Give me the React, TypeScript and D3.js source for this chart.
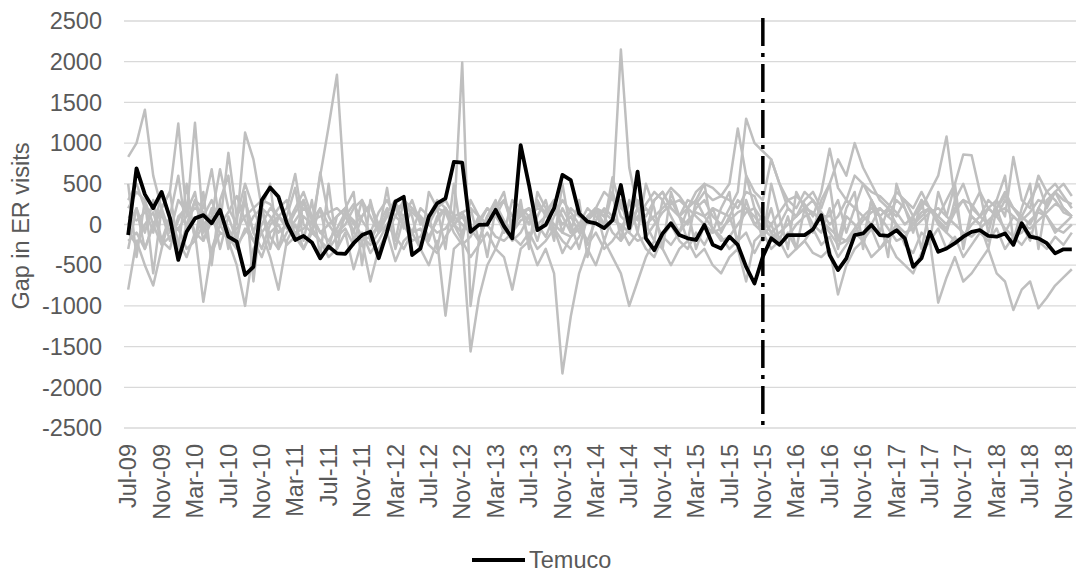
import React, { useEffect, useRef } from "react";
import * as d3 from "d3";

// months Jul-09 .. Dec-18
const months = d3.timeMonth.range(new Date(2009, 6, 1), new Date(2019, 0, 1));

const yTicks = [-2500, -2000, -1500, -1000, -500, 0, 500, 1000, 1500, 2000, 2500];

const temuco = [
  -130, 690, 370, 200, 400, 80, -435, -90, 75, 115, 15, 180,
  -150, -210, -620, -520, 300, 455, 340, 15, -190, -140, -220, -415,
  -270, -355, -360, -230, -130, -90, -415, -90, 280, 340, -375, -295,
  95, 260, 320, 770, 760, -90, -5, 0, 180, -20, -170, 975,
  485, -70, -5, 200, 610, 545, 135, 35, 15, -45, 55, 485,
  -45, 650, -170, -315, -110, 15, -130, -170, -190, -5, -250, -295,
  -150, -250, -520, -725, -395, -170, -250, -130, -130, -130, -60, 115,
  -375, -560, -415, -130, -110, -5, -130, -140, -70, -170, -520, -415,
  -90, -335, -295, -230, -150, -90, -70, -140, -150, -110, -250, 15,
  -150, -170, -230, -355, -305, -305,
];

const other1 = [
  830, 1000, 1410, 600, 200, -100, 300, 150, 400, -200, 100, 250,
  -300, 100, 500, 200, -100, 50, 200, 300, -150, 100, 0, 600,
  1200, 1840, 300, -200, 100, 250, -100, 150, 300, -50, 200, 100,
  -200, 100, 200, 50, 1990, -1000, -200, 100, 150, -100, 300, 200,
  100, -200, 150, 300, -100, 200, 100, 50, 200, 400, 300, 2150,
  700, 200, -100, 300, 400, 200, 100, 300, 250, 400, 300, 350,
  500, 1180, 600, 400, 300, 800, 500, 300, 200, 400, 300, 100,
  100, 300, -100, 200, 500, 300, 100, 200, 400, 300, 100, 200,
  400, 600, 1080, 300, 500, 200, 100, 300, 200, 400, 200, 100,
  300, 500, 200, 400, 300, 250,
];

const other2 = [
  -800, -200, -500, -750, -300, 100, -200, -400, -100, -950, -300, 0,
  -200, -500, -1000, -300, -100, -400, -800, -200, 0, -300, -100, -200,
  -400, -300, -100, -550, -200, -700, -300, -100, -450, -200, -100, -300,
  -500, -200, -1120, -300, -200, -1560, -900, -500, -300, -400, -800, -300,
  -200, -500, -300, -600, -1830, -1130, -600, -300, -500, -200, -400, -600,
  -1000, -700, -400, -200, -300, -500, -300, -200, -400, -300, -500, -600,
  -400, -300, -700, -200, -100, -300, -200, -400, -300, -200, -350, -400,
  -300, -860, -500, -300, -200, -400, -300, -200, -400, -500, -600, -350,
  -200, -960, -650, -400, -700, -600, -450, -300, -600, -700, -1050, -800,
  -700, -1030, -900, -750, -650, -550,
];

const other3 = [
  200, 400, 300, 0, 200, 400, 1240, 100, 1250, 0, 100, 680,
  200, 0, 1130, 800, 200, 100, -100, 0, 200, 400, 100, -100,
  0, 100, 200, 0, 100, 250, 0, -100, 100, 300, 200, 100,
  0, 200, 300, 100, 0, -100, 100, 0, 200, 300, 100, 200,
  0, 300, 100, 200, 0, 100, -100, 100, 200, 0, 400, 100,
  0, 200, 100, 300, 400, 200, 100, 0, 200, 300, 100, 0,
  200, 400, 1300, 1000, 900, 800, 500, 200, 100, 300, 400, 200,
  500, 800, 600, 1000, 700, 500, 300, 200, 100, 300, 200, 400,
  200, 100, 300, 500, 860, 850, 400, 200, 300, 100, 830, 300,
  200, 600, 400, 500, 350, 200,
];

const other4 = [
  -300, 200, -100, 300, -200, 100, -400, 0, 300, -100, 200, -300,
  100, -200, 300, -100, 200, -300, 100, 0, -200, 300, -100, 200,
  -300, 100, 200, -100, 300, -200, 0, 200, -300, 100, -100, 200,
  100, -300, 200, 0, -100, 200, -200, 100, 300, -100, 0, 200,
  -200, 100, 300, -100, 200, 0, -300, 100, 200, -200, 100, 300,
  -100, 200, 0, -200, 300, 100, -100, 200, -300, 0, 200, -100,
  100, -200, 300, 0, -100, 200, -200, 100, -300, 200, 0, -100,
  200, -300, 100, 0, -200, 300, -100, 200, 0, -200, 100, -300,
  200, 0, -100, 300, -200, 100, 0, -300, 200, -100, 100, 0,
  -200, 200, 100, -100, 0, 100,
];

const other5 = [
  100, 50, 150, 200, 100, 0, -50, 100, 200, 150, 50, -100,
  -150, -50, 100, 200, 300, 250, 100, 0, -100, -50, 50, 100,
  150, 200, 100, -100, -200, -150, 0, 100, 200, 250, 150, 50,
  0, -100, -50, 100, 150, 200, 100, 0, -150, -200, -100, 50,
  100, 200, 150, 0, -100, -150, -50, 100, 200, 150, 50, 0,
  -100, -200, -150, 0, 150, 250, 300, 200, 100, 0, -100, -50,
  50, 150, 200, 100, -50, -150, -100, 0, 100, 200, 150, 50,
  -50, -150, -200, -100, 50, 150, 200, 100, 0, -100, -50, 50,
  150, 200, 100, 0, -100, -150, -50, 50, 150, 200, 100, 0,
  -50, 50, 150, 250, 200, 100,
];

const other6 = [
  500, -400, 300, -600, 200, 400, -300, 500, -200, 400, -500, 300,
  600, -200, 400, -700, 200, 500, -300, 100, 450, -200, 300, -400,
  500, -300, 200, 400, -500, 300, -100, 450, -200, 300, 100, -300,
  400, 200, -300, 500, -200, 300, 100, -400, 200, 400, -100, 300,
  -300, 400, 200, -200, 500, -100, 300, -400, 200, 100, 400, -200,
  300, -100, 500, 200, -300, 400, 100, -200, 300, 500, -100, 200,
  400, -300, 600, 200, -200, 500, 100, -300, 400, 200, -100, 300,
  500, -200, 200, 400, -300, 300, 100, -400, 500, 200, -100, 300,
  -200, 400, 100, 500, -300, 200, 400, -100, 300, 600, -200, 200,
  500, -300, 300, 400, 200, 100,
];

const other7 = [
  -100, -250, 0, 150, -200, -300, 100, 200, -100, -200, 50, 150,
  -50, -250, -100, 100, 200, -150, -300, -100, 50, 200, 100, -100,
  -200, -50, 150, 50, -150, -250, -100, 100, 200, 0, -200, -150,
  50, 200, 150, -100, -250, -150, 50, 200, 100, -50, -200, -100,
  100, 250, 150, -50, -200, -300, -150, 50, 150, 100, -100, -200,
  -50, 100, 200, 50, -150, -250, -100, 50, 150, 100, -50, -200,
  -150, 0, 150, 200, 50, -100, -250, -150, 0, 100, 150, 50,
  -100, -250, -200, -50, 100, 200, 100, -50, -200, -150, 0, 150,
  200, 50, -100, -200, -150, 0, 100, 200, 100, -50, -150, -100,
  50, 150, 100, -50, -100, 0,
];

const other8 = [
  300, 500, 200, -100, 400, 100, 600, -100, 300, 200, 680, 0,
  880, 100, 300, -100, -300, 0, 100, 200, 620, 0, -100, 640,
  100, -100, 0, 200, 300, 100, -100, 0, 200, 100, 300, 0,
  100, 300, 200, 0, 100, -100, 0, 200, 100, 300, 0, 100,
  200, 0, 100, 300, 100, -100, 0, 200, 100, 0, 580, 200,
  100, 300, 0, 100, 200, 300, 100, 200, 300, 100, 200, 150,
  100, 300, 200, 0, 100, -100, 0, 200, 100, 200, 300, 150,
  0, 100, 300, 200, 100, 0, 200, 100, 300, 200, 0, 100,
  200, 100, 0, 200, 300, 100, 0, 200, 100, 300, 200, 100,
  0, 200, 400, 300, 150, 100,
];

const other9 = [
  -200, -100, -300, 0, -250, -150, -50, -300, -200, 0, -350, -100,
  -150, -300, -50, -200, -400, -100, 0, -250, -150, -300, -50, -200,
  -300, -150, -50, -250, -100, -350, -200, 0, -150, -300, -100, -50,
  -250, -350, -150, 0, -200, -400, -250, -100, -300, -50, -150, -250,
  -100, -300, -200, -50, -350, -150, 0, -250, -100, -300, -200, -50,
  -250, -100, -300, -400, -150, 0, -200, -300, -100, -250, -50, -150,
  -300, -200, -100, -350, -150, 0, -250, -100, -300, -200, -50, -250,
  -150, -400, -250, -100, -200, -50, -300, -150, 0, -250, -350, -100,
  -200, -50, -300, -150, -400, -250, -100, -200, -50, -300, -150, -250,
  -100, -200, -300, -150, -250, -100,
];

const other10 = [
  0, 200, -300, 0, 150, -200, 50, 250, -150, 100, 300, 0,
  150, 350, 50, -200, 0, 200, 100, -50, 150, 300, 50, 200,
  0, -150, 100, 250, 50, -100, 150, 300, 100, 0, 200, 50,
  -150, 50, 200, 0, 150, -50, -200, 100, 250, 50, -100, 150,
  200, 0, -150, 100, 300, 150, 0, -200, 50, 200, 100, -50,
  150, 50, 250, 400, 300, 450, 350, 200, 400, 500, 450, 350,
  300, 200, 400, 350, 100, 0, 150, 300, 350, 250, 100, 400,
  930, 450, 300, 600, 500, 400, 350, 250, 150, 0, 100, 300,
  200, 50, -50, 150, 300, 250, 100, 0, 200, 350, 200, 50,
  150, 300, 250, 400, 500, 350,
];

const others = [other1, other2, other3, other4, other5, other6, other7, other8, other9, other10];

const policyMonth = new Date(2015, 10, 1); // Nov-15

const FONT = "'Liberation Sans', Arial, sans-serif";
const TEXT = "#595959";
const FS = 23.5;

export default function App() {
  const svgRef = useRef<SVGSVGElement>(null);

  useEffect(() => {
    const svg = d3.select(svgRef.current);
    svg.selectAll("*").remove();

    const fmt = d3.timeFormat("%b-%y");
    const labels = months.map((m) => fmt(m));

    const x = d3.scalePoint<string>().domain(labels).range([124, 1076]).padding(0.5);
    const y = d3.scaleLinear().domain([-2500, 2500]).range([428, 21]);

    // gridlines
    svg
      .append("g")
      .selectAll("line")
      .data(yTicks)
      .join("line")
      .attr("x1", 124)
      .attr("x2", 1076)
      .attr("y1", (d) => y(d))
      .attr("y2", (d) => y(d))
      .attr("stroke", "#d9d9d9")
      .attr("stroke-width", 1.3);

    // y tick labels
    svg
      .append("g")
      .selectAll("text")
      .data(yTicks)
      .join("text")
      .attr("x", 102)
      .attr("y", (d) => y(d))
      .attr("dy", "0.35em")
      .attr("text-anchor", "end")
      .attr("font-family", FONT)
      .attr("font-size", FS)
      .attr("fill", TEXT)
      .text((d) => String(d));

    // x labels every 4 months
    svg
      .append("g")
      .selectAll("text")
      .data(labels.filter((_, i) => i % 4 === 0))
      .join("text")
      .attr("transform", (d) => `translate(${x(d)},444) rotate(-90)`)
      .attr("dy", "0.35em")
      .attr("text-anchor", "end")
      .attr("font-family", FONT)
      .attr("font-size", FS)
      .attr("fill", TEXT)
      .text((d) => d);

    // y title
    svg
      .append("text")
      .attr("transform", "translate(21,226) rotate(-90)")
      .attr("dy", "0.35em")
      .attr("text-anchor", "middle")
      .attr("font-family", FONT)
      .attr("font-size", FS)
      .attr("fill", TEXT)
      .text("Gap in ER visits");

    const line = d3
      .line<number>()
      .x((_, i) => x(labels[i]) as number)
      .y((d) => y(d));

    svg
      .append("g")
      .selectAll("path")
      .data(others)
      .join("path")
      .attr("d", (d) => line(d))
      .attr("fill", "none")
      .attr("stroke", "#bfbfbf")
      .attr("stroke-width", 2.5)
      .attr("stroke-linejoin", "round");

    svg
      .append("path")
      .attr("d", line(temuco))
      .attr("fill", "none")
      .attr("stroke", "#000")
      .attr("stroke-width", 3.8)
      .attr("stroke-linejoin", "round");

    // policy line
    const px = x(fmt(policyMonth)) as number;
    svg
      .append("line")
      .attr("x1", px)
      .attr("x2", px)
      .attr("y1", 18)
      .attr("y2", 430)
      .attr("stroke", "#000")
      .attr("stroke-width", 3.5)
      .attr("stroke-dasharray", "28 7 4 7");

    // legend
    svg
      .append("line")
      .attr("x1", 472)
      .attr("x2", 525)
      .attr("y1", 560)
      .attr("y2", 560)
      .attr("stroke", "#000")
      .attr("stroke-width", 3.8);
    svg
      .append("text")
      .attr("x", 529)
      .attr("y", 560)
      .attr("dy", "0.35em")
      .attr("font-family", FONT)
      .attr("font-size", FS)
      .attr("fill", TEXT)
      .text("Temuco");
  }, []);

  return (
    <svg
      ref={svgRef}
      width={1077}
      height={573}
      style={{ position: "absolute", left: 0, top: 0, background: "#fff" }}
    />
  );
}
